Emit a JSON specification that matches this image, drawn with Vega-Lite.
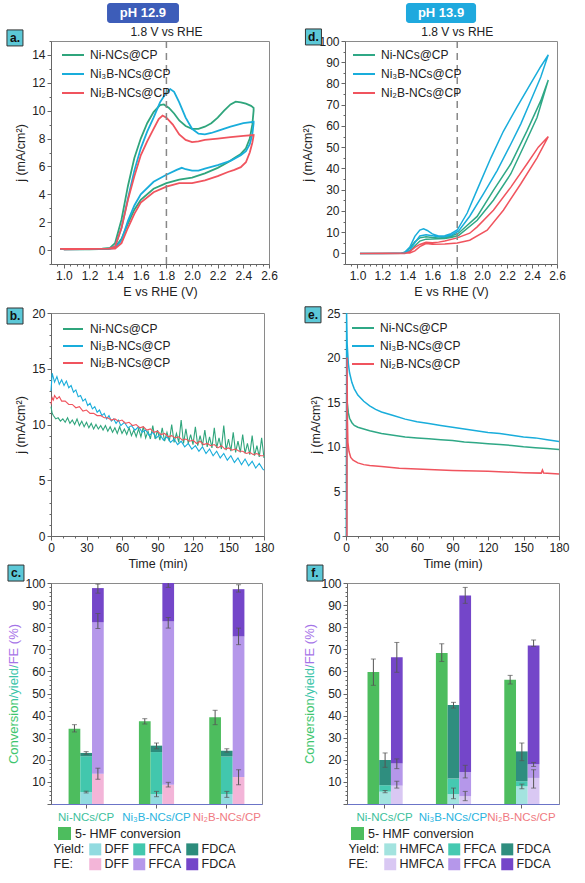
{
 "$schema": "https://vega.github.io/schema/vega-lite/v6.json",
 "background": "white",
 "padding": {"left": 4, "top": 2, "right": 2, "bottom": 2},
 "config": {
  "font": "Liberation Sans",
  "view": {"stroke": "#8a8a8a", "strokeWidth": 1},
  "axis": {"labelFontSize": 12, "titleFontSize": 12.5, "titleFontWeight": "normal", "labelColor": "#222", "titleColor": "#222", "domainColor": "#666", "tickColor": "#666", "tickSize": 4, "grid": false, "labelPadding": 2, "titlePadding": 4, "labelOverlap": false, "labelFlush": false},
  "legend": {"labelFontSize": 12, "labelColor": "#222", "padding": 0}
 },
 "datasets": {
  "cvA": [
   {"s":"Ni-NCs@CP","i":0,"v":0.97,"j":0.08},{"s":"Ni-NCs@CP","i":1,"v":1.1,"j":0.08},{"s":"Ni-NCs@CP","i":2,"v":1.2,"j":0.08},{"s":"Ni-NCs@CP","i":3,"v":1.3,"j":0.1},{"s":"Ni-NCs@CP","i":4,"v":1.36,"j":0.15},{"s":"Ni-NCs@CP","i":5,"v":1.4,"j":0.5},{"s":"Ni-NCs@CP","i":6,"v":1.45,"j":2.2},{"s":"Ni-NCs@CP","i":7,"v":1.5,"j":4.6},{"s":"Ni-NCs@CP","i":8,"v":1.55,"j":6.6},{"s":"Ni-NCs@CP","i":9,"v":1.6,"j":8.0},{"s":"Ni-NCs@CP","i":10,"v":1.65,"j":9.1},{"s":"Ni-NCs@CP","i":11,"v":1.7,"j":9.9},{"s":"Ni-NCs@CP","i":12,"v":1.75,"j":10.4},{"s":"Ni-NCs@CP","i":13,"v":1.78,"j":10.45},{"s":"Ni-NCs@CP","i":14,"v":1.82,"j":10.2},{"s":"Ni-NCs@CP","i":15,"v":1.86,"j":9.8},{"s":"Ni-NCs@CP","i":16,"v":1.9,"j":9.3},{"s":"Ni-NCs@CP","i":17,"v":1.95,"j":8.9},{"s":"Ni-NCs@CP","i":18,"v":2.0,"j":8.7},{"s":"Ni-NCs@CP","i":19,"v":2.05,"j":8.7},{"s":"Ni-NCs@CP","i":20,"v":2.1,"j":8.85},{"s":"Ni-NCs@CP","i":21,"v":2.15,"j":9.1},{"s":"Ni-NCs@CP","i":22,"v":2.2,"j":9.5},{"s":"Ni-NCs@CP","i":23,"v":2.25,"j":10.0},{"s":"Ni-NCs@CP","i":24,"v":2.3,"j":10.45},{"s":"Ni-NCs@CP","i":25,"v":2.34,"j":10.65},{"s":"Ni-NCs@CP","i":26,"v":2.38,"j":10.6},{"s":"Ni-NCs@CP","i":27,"v":2.42,"j":10.5},{"s":"Ni-NCs@CP","i":28,"v":2.46,"j":10.35},{"s":"Ni-NCs@CP","i":29,"v":2.48,"j":10.2},
   {"s":"Ni-NCs@CP","i":30,"v":2.48,"j":10.0},{"s":"Ni-NCs@CP","i":31,"v":2.47,"j":9.0},{"s":"Ni-NCs@CP","i":32,"v":2.45,"j":8.0},{"s":"Ni-NCs@CP","i":33,"v":2.42,"j":7.3},{"s":"Ni-NCs@CP","i":34,"v":2.38,"j":6.9},{"s":"Ni-NCs@CP","i":35,"v":2.33,"j":6.6},{"s":"Ni-NCs@CP","i":36,"v":2.28,"j":6.3},{"s":"Ni-NCs@CP","i":37,"v":2.2,"j":5.9},{"s":"Ni-NCs@CP","i":38,"v":2.1,"j":5.5},{"s":"Ni-NCs@CP","i":39,"v":2.0,"j":5.2},{"s":"Ni-NCs@CP","i":40,"v":1.9,"j":5.05},{"s":"Ni-NCs@CP","i":41,"v":1.8,"j":4.8},{"s":"Ni-NCs@CP","i":42,"v":1.7,"j":4.4},{"s":"Ni-NCs@CP","i":43,"v":1.6,"j":3.6},{"s":"Ni-NCs@CP","i":44,"v":1.55,"j":2.9},{"s":"Ni-NCs@CP","i":45,"v":1.5,"j":1.9},{"s":"Ni-NCs@CP","i":46,"v":1.45,"j":0.8},{"s":"Ni-NCs@CP","i":47,"v":1.4,"j":0.2},{"s":"Ni-NCs@CP","i":48,"v":1.35,"j":0.08},{"s":"Ni-NCs@CP","i":49,"v":1.2,"j":0.06},{"s":"Ni-NCs@CP","i":50,"v":1.0,"j":0.06},
   {"s":"Ni₃B-NCs@CP","i":0,"v":0.97,"j":0.08},{"s":"Ni₃B-NCs@CP","i":1,"v":1.2,"j":0.08},{"s":"Ni₃B-NCs@CP","i":2,"v":1.35,"j":0.1},{"s":"Ni₃B-NCs@CP","i":3,"v":1.4,"j":0.25},{"s":"Ni₃B-NCs@CP","i":4,"v":1.45,"j":1.6},{"s":"Ni₃B-NCs@CP","i":5,"v":1.5,"j":3.7},{"s":"Ni₃B-NCs@CP","i":6,"v":1.55,"j":5.7},{"s":"Ni₃B-NCs@CP","i":7,"v":1.6,"j":7.3},{"s":"Ni₃B-NCs@CP","i":8,"v":1.65,"j":8.5},{"s":"Ni₃B-NCs@CP","i":9,"v":1.7,"j":9.5},{"s":"Ni₃B-NCs@CP","i":10,"v":1.75,"j":10.6},{"s":"Ni₃B-NCs@CP","i":11,"v":1.8,"j":11.3},{"s":"Ni₃B-NCs@CP","i":12,"v":1.83,"j":11.55},{"s":"Ni₃B-NCs@CP","i":13,"v":1.86,"j":11.35},{"s":"Ni₃B-NCs@CP","i":14,"v":1.9,"j":10.6},{"s":"Ni₃B-NCs@CP","i":15,"v":1.95,"j":9.5},{"s":"Ni₃B-NCs@CP","i":16,"v":2.0,"j":8.7},{"s":"Ni₃B-NCs@CP","i":17,"v":2.05,"j":8.35},{"s":"Ni₃B-NCs@CP","i":18,"v":2.1,"j":8.3},{"s":"Ni₃B-NCs@CP","i":19,"v":2.15,"j":8.4},{"s":"Ni₃B-NCs@CP","i":20,"v":2.2,"j":8.55},{"s":"Ni₃B-NCs@CP","i":21,"v":2.3,"j":8.85},{"s":"Ni₃B-NCs@CP","i":22,"v":2.4,"j":9.1},{"s":"Ni₃B-NCs@CP","i":23,"v":2.48,"j":9.2},
   {"s":"Ni₃B-NCs@CP","i":24,"v":2.48,"j":9.1},{"s":"Ni₃B-NCs@CP","i":25,"v":2.47,"j":8.3},{"s":"Ni₃B-NCs@CP","i":26,"v":2.45,"j":7.6},{"s":"Ni₃B-NCs@CP","i":27,"v":2.42,"j":7.1},{"s":"Ni₃B-NCs@CP","i":28,"v":2.38,"j":6.8},{"s":"Ni₃B-NCs@CP","i":29,"v":2.3,"j":6.4},{"s":"Ni₃B-NCs@CP","i":30,"v":2.2,"j":6.1},{"s":"Ni₃B-NCs@CP","i":31,"v":2.1,"j":5.85},{"s":"Ni₃B-NCs@CP","i":32,"v":2.05,"j":5.7},{"s":"Ni₃B-NCs@CP","i":33,"v":2.0,"j":5.7},{"s":"Ni₃B-NCs@CP","i":34,"v":1.95,"j":5.8},{"s":"Ni₃B-NCs@CP","i":35,"v":1.92,"j":5.9},{"s":"Ni₃B-NCs@CP","i":36,"v":1.88,"j":5.75},{"s":"Ni₃B-NCs@CP","i":37,"v":1.8,"j":5.4},{"s":"Ni₃B-NCs@CP","i":38,"v":1.7,"j":4.9},{"s":"Ni₃B-NCs@CP","i":39,"v":1.6,"j":4.0},{"s":"Ni₃B-NCs@CP","i":40,"v":1.55,"j":3.2},{"s":"Ni₃B-NCs@CP","i":41,"v":1.5,"j":2.1},{"s":"Ni₃B-NCs@CP","i":42,"v":1.45,"j":0.7},{"s":"Ni₃B-NCs@CP","i":43,"v":1.4,"j":0.15},{"s":"Ni₃B-NCs@CP","i":44,"v":1.35,"j":0.08},{"s":"Ni₃B-NCs@CP","i":45,"v":1.0,"j":0.06},
   {"s":"Ni₂B-NCs@CP","i":0,"v":0.97,"j":0.08},{"s":"Ni₂B-NCs@CP","i":1,"v":1.2,"j":0.08},{"s":"Ni₂B-NCs@CP","i":2,"v":1.35,"j":0.1},{"s":"Ni₂B-NCs@CP","i":3,"v":1.4,"j":0.25},{"s":"Ni₂B-NCs@CP","i":4,"v":1.45,"j":1.6},{"s":"Ni₂B-NCs@CP","i":5,"v":1.5,"j":3.6},{"s":"Ni₂B-NCs@CP","i":6,"v":1.55,"j":5.3},{"s":"Ni₂B-NCs@CP","i":7,"v":1.6,"j":6.8},{"s":"Ni₂B-NCs@CP","i":8,"v":1.65,"j":7.8},{"s":"Ni₂B-NCs@CP","i":9,"v":1.7,"j":8.7},{"s":"Ni₂B-NCs@CP","i":10,"v":1.74,"j":9.4},{"s":"Ni₂B-NCs@CP","i":11,"v":1.77,"j":9.65},{"s":"Ni₂B-NCs@CP","i":12,"v":1.8,"j":9.5},{"s":"Ni₂B-NCs@CP","i":13,"v":1.85,"j":9.0},{"s":"Ni₂B-NCs@CP","i":14,"v":1.9,"j":8.3},{"s":"Ni₂B-NCs@CP","i":15,"v":1.95,"j":7.9},{"s":"Ni₂B-NCs@CP","i":16,"v":2.0,"j":7.75},{"s":"Ni₂B-NCs@CP","i":17,"v":2.05,"j":7.8},{"s":"Ni₂B-NCs@CP","i":18,"v":2.1,"j":7.9},{"s":"Ni₂B-NCs@CP","i":19,"v":2.2,"j":8.0},{"s":"Ni₂B-NCs@CP","i":20,"v":2.3,"j":8.1},{"s":"Ni₂B-NCs@CP","i":21,"v":2.4,"j":8.2},{"s":"Ni₂B-NCs@CP","i":22,"v":2.48,"j":8.25},
   {"s":"Ni₂B-NCs@CP","i":23,"v":2.48,"j":8.2},{"s":"Ni₂B-NCs@CP","i":24,"v":2.47,"j":7.7},{"s":"Ni₂B-NCs@CP","i":25,"v":2.45,"j":7.0},{"s":"Ni₂B-NCs@CP","i":26,"v":2.42,"j":6.3},{"s":"Ni₂B-NCs@CP","i":27,"v":2.38,"j":5.95},{"s":"Ni₂B-NCs@CP","i":28,"v":2.33,"j":5.75},{"s":"Ni₂B-NCs@CP","i":29,"v":2.28,"j":5.6},{"s":"Ni₂B-NCs@CP","i":30,"v":2.2,"j":5.3},{"s":"Ni₂B-NCs@CP","i":31,"v":2.1,"j":5.0},{"s":"Ni₂B-NCs@CP","i":32,"v":2.0,"j":4.8},{"s":"Ni₂B-NCs@CP","i":33,"v":1.9,"j":4.8},{"s":"Ni₂B-NCs@CP","i":34,"v":1.8,"j":4.55},{"s":"Ni₂B-NCs@CP","i":35,"v":1.7,"j":4.15},{"s":"Ni₂B-NCs@CP","i":36,"v":1.6,"j":3.4},{"s":"Ni₂B-NCs@CP","i":37,"v":1.55,"j":2.6},{"s":"Ni₂B-NCs@CP","i":38,"v":1.5,"j":1.6},{"s":"Ni₂B-NCs@CP","i":39,"v":1.45,"j":0.5},{"s":"Ni₂B-NCs@CP","i":40,"v":1.4,"j":0.1},{"s":"Ni₂B-NCs@CP","i":41,"v":1.0,"j":0.06}
  ],
  "cvD": [
   {"s":"Ni-NCs@CP","i":0,"v":1.02,"j":0},{"s":"Ni-NCs@CP","i":1,"v":1.35,"j":0},{"s":"Ni-NCs@CP","i":2,"v":1.38,"j":0.5},{"s":"Ni-NCs@CP","i":3,"v":1.42,"j":2.5},{"s":"Ni-NCs@CP","i":4,"v":1.46,"j":5.5},{"s":"Ni-NCs@CP","i":5,"v":1.5,"j":7.3},{"s":"Ni-NCs@CP","i":6,"v":1.55,"j":7.8},{"s":"Ni-NCs@CP","i":7,"v":1.6,"j":7.5},{"s":"Ni-NCs@CP","i":8,"v":1.65,"j":7.3},{"s":"Ni-NCs@CP","i":9,"v":1.7,"j":7.5},{"s":"Ni-NCs@CP","i":10,"v":1.75,"j":8.2},{"s":"Ni-NCs@CP","i":11,"v":1.81,"j":9.5},{"s":"Ni-NCs@CP","i":12,"v":1.96,"j":17.4},{"s":"Ni-NCs@CP","i":13,"v":2.09,"j":29.7},{"s":"Ni-NCs@CP","i":14,"v":2.23,"j":42.2},{"s":"Ni-NCs@CP","i":15,"v":2.36,"j":57.8},{"s":"Ni-NCs@CP","i":16,"v":2.47,"j":71.9},{"s":"Ni-NCs@CP","i":17,"v":2.53,"j":81.6},
   {"s":"Ni-NCs@CP","i":18,"v":2.44,"j":64},{"s":"Ni-NCs@CP","i":19,"v":2.33,"j":50},{"s":"Ni-NCs@CP","i":20,"v":2.23,"j":37.5},{"s":"Ni-NCs@CP","i":21,"v":2.09,"j":25},{"s":"Ni-NCs@CP","i":22,"v":1.96,"j":15.6},{"s":"Ni-NCs@CP","i":23,"v":1.81,"j":8.4},{"s":"Ni-NCs@CP","i":24,"v":1.75,"j":7.5},{"s":"Ni-NCs@CP","i":25,"v":1.7,"j":7.0},{"s":"Ni-NCs@CP","i":26,"v":1.6,"j":6.8},{"s":"Ni-NCs@CP","i":27,"v":1.55,"j":6.7},{"s":"Ni-NCs@CP","i":28,"v":1.5,"j":5.8},{"s":"Ni-NCs@CP","i":29,"v":1.46,"j":3.5},{"s":"Ni-NCs@CP","i":30,"v":1.42,"j":1.0},{"s":"Ni-NCs@CP","i":31,"v":1.38,"j":0.1},{"s":"Ni-NCs@CP","i":32,"v":1.02,"j":0},
   {"s":"Ni₃B-NCs@CP","i":0,"v":1.02,"j":0},{"s":"Ni₃B-NCs@CP","i":1,"v":1.2,"j":0},{"s":"Ni₃B-NCs@CP","i":2,"v":1.35,"j":0.1},{"s":"Ni₃B-NCs@CP","i":3,"v":1.38,"j":0.5},{"s":"Ni₃B-NCs@CP","i":4,"v":1.42,"j":3},{"s":"Ni₃B-NCs@CP","i":5,"v":1.46,"j":8},{"s":"Ni₃B-NCs@CP","i":6,"v":1.5,"j":11},{"s":"Ni₃B-NCs@CP","i":7,"v":1.53,"j":11.6},{"s":"Ni₃B-NCs@CP","i":8,"v":1.56,"j":10.8},{"s":"Ni₃B-NCs@CP","i":9,"v":1.6,"j":9.2},{"s":"Ni₃B-NCs@CP","i":10,"v":1.65,"j":8.2},{"s":"Ni₃B-NCs@CP","i":11,"v":1.7,"j":8.3},{"s":"Ni₃B-NCs@CP","i":12,"v":1.75,"j":9.3},{"s":"Ni₃B-NCs@CP","i":13,"v":1.8,"j":11},{"s":"Ni₃B-NCs@CP","i":14,"v":1.88,"j":19},{"s":"Ni₃B-NCs@CP","i":15,"v":1.96,"j":30},{"s":"Ni₃B-NCs@CP","i":16,"v":2.07,"j":45},{"s":"Ni₃B-NCs@CP","i":17,"v":2.17,"j":57.5},{"s":"Ni₃B-NCs@CP","i":18,"v":2.28,"j":69},{"s":"Ni₃B-NCs@CP","i":19,"v":2.39,"j":80},{"s":"Ni₃B-NCs@CP","i":20,"v":2.47,"j":88},{"s":"Ni₃B-NCs@CP","i":21,"v":2.53,"j":93.5},
   {"s":"Ni₃B-NCs@CP","i":22,"v":2.47,"j":83},{"s":"Ni₃B-NCs@CP","i":23,"v":2.39,"j":72},{"s":"Ni₃B-NCs@CP","i":24,"v":2.31,"j":61},{"s":"Ni₃B-NCs@CP","i":25,"v":2.23,"j":51.5},{"s":"Ni₃B-NCs@CP","i":26,"v":2.12,"j":39},{"s":"Ni₃B-NCs@CP","i":27,"v":2.01,"j":28},{"s":"Ni₃B-NCs@CP","i":28,"v":1.9,"j":17.5},{"s":"Ni₃B-NCs@CP","i":29,"v":1.81,"j":10.5},{"s":"Ni₃B-NCs@CP","i":30,"v":1.75,"j":8.5},{"s":"Ni₃B-NCs@CP","i":31,"v":1.7,"j":7.8},{"s":"Ni₃B-NCs@CP","i":32,"v":1.65,"j":7.8},{"s":"Ni₃B-NCs@CP","i":33,"v":1.6,"j":8.3},{"s":"Ni₃B-NCs@CP","i":34,"v":1.55,"j":8.8},{"s":"Ni₃B-NCs@CP","i":35,"v":1.5,"j":8.2},{"s":"Ni₃B-NCs@CP","i":36,"v":1.46,"j":5},{"s":"Ni₃B-NCs@CP","i":37,"v":1.42,"j":1.5},{"s":"Ni₃B-NCs@CP","i":38,"v":1.38,"j":0.2},{"s":"Ni₃B-NCs@CP","i":39,"v":1.2,"j":0},{"s":"Ni₃B-NCs@CP","i":40,"v":1.02,"j":0},
   {"s":"Ni₂B-NCs@CP","i":0,"v":1.02,"j":0},{"s":"Ni₂B-NCs@CP","i":1,"v":1.38,"j":0},{"s":"Ni₂B-NCs@CP","i":2,"v":1.42,"j":0.8},{"s":"Ni₂B-NCs@CP","i":3,"v":1.46,"j":2.8},{"s":"Ni₂B-NCs@CP","i":4,"v":1.5,"j":4.2},{"s":"Ni₂B-NCs@CP","i":5,"v":1.55,"j":5.2},{"s":"Ni₂B-NCs@CP","i":6,"v":1.6,"j":5.0},{"s":"Ni₂B-NCs@CP","i":7,"v":1.65,"j":5.3},{"s":"Ni₂B-NCs@CP","i":8,"v":1.7,"j":5.8},{"s":"Ni₂B-NCs@CP","i":9,"v":1.8,"j":7.3},{"s":"Ni₂B-NCs@CP","i":10,"v":1.9,"j":9.5},{"s":"Ni₂B-NCs@CP","i":11,"v":1.96,"j":12.5},{"s":"Ni₂B-NCs@CP","i":12,"v":2.09,"j":20.3},{"s":"Ni₂B-NCs@CP","i":13,"v":2.23,"j":31.2},{"s":"Ni₂B-NCs@CP","i":14,"v":2.36,"j":42.2},{"s":"Ni₂B-NCs@CP","i":15,"v":2.45,"j":50},{"s":"Ni₂B-NCs@CP","i":16,"v":2.53,"j":55},
   {"s":"Ni₂B-NCs@CP","i":17,"v":2.44,"j":45},{"s":"Ni₂B-NCs@CP","i":18,"v":2.31,"j":32.8},{"s":"Ni₂B-NCs@CP","i":19,"v":2.17,"j":20.3},{"s":"Ni₂B-NCs@CP","i":20,"v":2.04,"j":10.9},{"s":"Ni₂B-NCs@CP","i":21,"v":1.9,"j":6.2},{"s":"Ni₂B-NCs@CP","i":22,"v":1.8,"j":4.9},{"s":"Ni₂B-NCs@CP","i":23,"v":1.7,"j":4.4},{"s":"Ni₂B-NCs@CP","i":24,"v":1.6,"j":4.3},{"s":"Ni₂B-NCs@CP","i":25,"v":1.55,"j":4.6},{"s":"Ni₂B-NCs@CP","i":26,"v":1.5,"j":3.2},{"s":"Ni₂B-NCs@CP","i":27,"v":1.46,"j":1.2},{"s":"Ni₂B-NCs@CP","i":28,"v":1.42,"j":0.2},{"s":"Ni₂B-NCs@CP","i":29,"v":1.02,"j":0}
  ],
  "caB": [
   {"s":"Ni-NCs@CP","t":0,"j":11.6},{"s":"Ni-NCs@CP","t":1,"j":11.0},{"s":"Ni-NCs@CP","t":2,"j":10.8},{"s":"Ni-NCs@CP","t":4,"j":10.5},{"s":"Ni-NCs@CP","t":6,"j":10.6},{"s":"Ni-NCs@CP","t":8,"j":10.3},{"s":"Ni-NCs@CP","t":10,"j":10.5},{"s":"Ni-NCs@CP","t":12,"j":10.2},{"s":"Ni-NCs@CP","t":14,"j":10.6},{"s":"Ni-NCs@CP","t":16,"j":10.1},{"s":"Ni-NCs@CP","t":18,"j":10.4},{"s":"Ni-NCs@CP","t":20,"j":10.0},{"s":"Ni-NCs@CP","t":22,"j":10.5},{"s":"Ni-NCs@CP","t":24,"j":9.9},{"s":"Ni-NCs@CP","t":26,"j":10.3},{"s":"Ni-NCs@CP","t":28,"j":9.8},{"s":"Ni-NCs@CP","t":30,"j":10.2},{"s":"Ni-NCs@CP","t":32,"j":9.7},{"s":"Ni-NCs@CP","t":34,"j":10.1},{"s":"Ni-NCs@CP","t":36,"j":9.6},{"s":"Ni-NCs@CP","t":38,"j":10.0},{"s":"Ni-NCs@CP","t":40,"j":9.6},{"s":"Ni-NCs@CP","t":42,"j":9.9},{"s":"Ni-NCs@CP","t":44,"j":9.5},{"s":"Ni-NCs@CP","t":46,"j":9.9},{"s":"Ni-NCs@CP","t":48,"j":9.4},{"s":"Ni-NCs@CP","t":50,"j":9.8},{"s":"Ni-NCs@CP","t":52,"j":9.3},{"s":"Ni-NCs@CP","t":54,"j":9.7},{"s":"Ni-NCs@CP","t":56,"j":9.2},{"s":"Ni-NCs@CP","t":58,"j":9.8},{"s":"Ni-NCs@CP","t":60,"j":9.2},{"s":"Ni-NCs@CP","t":62,"j":9.6},{"s":"Ni-NCs@CP","t":64,"j":9.1},{"s":"Ni-NCs@CP","t":66,"j":9.7},{"s":"Ni-NCs@CP","t":68,"j":9.0},{"s":"Ni-NCs@CP","t":70,"j":9.5},{"s":"Ni-NCs@CP","t":72,"j":8.9},{"s":"Ni-NCs@CP","t":74,"j":9.6},{"s":"Ni-NCs@CP","t":76,"j":8.9},{"s":"Ni-NCs@CP","t":78,"j":9.8},{"s":"Ni-NCs@CP","t":80,"j":8.8},{"s":"Ni-NCs@CP","t":82,"j":9.4},{"s":"Ni-NCs@CP","t":84,"j":8.7},{"s":"Ni-NCs@CP","t":86,"j":9.9},{"s":"Ni-NCs@CP","t":88,"j":8.7},{"s":"Ni-NCs@CP","t":90,"j":9.5},{"s":"Ni-NCs@CP","t":92,"j":8.6},{"s":"Ni-NCs@CP","t":94,"j":9.7},{"s":"Ni-NCs@CP","t":96,"j":8.5},{"s":"Ni-NCs@CP","t":98,"j":9.3},{"s":"Ni-NCs@CP","t":100,"j":8.5},{"s":"Ni-NCs@CP","t":102,"j":10.0},{"s":"Ni-NCs@CP","t":104,"j":8.4},{"s":"Ni-NCs@CP","t":106,"j":9.2},{"s":"Ni-NCs@CP","t":108,"j":8.4},{"s":"Ni-NCs@CP","t":110,"j":10.4},{"s":"Ni-NCs@CP","t":112,"j":8.3},{"s":"Ni-NCs@CP","t":114,"j":9.6},{"s":"Ni-NCs@CP","t":116,"j":8.3},{"s":"Ni-NCs@CP","t":118,"j":9.1},{"s":"Ni-NCs@CP","t":120,"j":8.2},{"s":"Ni-NCs@CP","t":122,"j":9.8},{"s":"Ni-NCs@CP","t":124,"j":8.1},{"s":"Ni-NCs@CP","t":126,"j":9.0},{"s":"Ni-NCs@CP","t":128,"j":8.1},{"s":"Ni-NCs@CP","t":130,"j":9.5},{"s":"Ni-NCs@CP","t":132,"j":8.0},{"s":"Ni-NCs@CP","t":134,"j":8.9},{"s":"Ni-NCs@CP","t":136,"j":7.9},{"s":"Ni-NCs@CP","t":138,"j":9.7},{"s":"Ni-NCs@CP","t":140,"j":7.9},{"s":"Ni-NCs@CP","t":142,"j":8.8},{"s":"Ni-NCs@CP","t":144,"j":7.8},{"s":"Ni-NCs@CP","t":146,"j":9.9},{"s":"Ni-NCs@CP","t":148,"j":7.7},{"s":"Ni-NCs@CP","t":150,"j":8.7},{"s":"Ni-NCs@CP","t":152,"j":7.6},{"s":"Ni-NCs@CP","t":154,"j":9.3},{"s":"Ni-NCs@CP","t":156,"j":7.5},{"s":"Ni-NCs@CP","t":158,"j":8.5},{"s":"Ni-NCs@CP","t":160,"j":7.5},{"s":"Ni-NCs@CP","t":162,"j":9.1},{"s":"Ni-NCs@CP","t":164,"j":7.4},{"s":"Ni-NCs@CP","t":166,"j":8.3},{"s":"Ni-NCs@CP","t":168,"j":7.3},{"s":"Ni-NCs@CP","t":170,"j":9.0},{"s":"Ni-NCs@CP","t":172,"j":7.2},{"s":"Ni-NCs@CP","t":174,"j":8.1},{"s":"Ni-NCs@CP","t":176,"j":7.1},{"s":"Ni-NCs@CP","t":178,"j":8.8},{"s":"Ni-NCs@CP","t":180,"j":7.0},
   {"s":"Ni₃B-NCs@CP","t":0,"j":13.0},{"s":"Ni₃B-NCs@CP","t":1,"j":14.6},{"s":"Ni₃B-NCs@CP","t":3,"j":13.8},{"s":"Ni₃B-NCs@CP","t":5,"j":14.3},{"s":"Ni₃B-NCs@CP","t":7,"j":13.6},{"s":"Ni₃B-NCs@CP","t":9,"j":14.0},{"s":"Ni₃B-NCs@CP","t":11,"j":13.5},{"s":"Ni₃B-NCs@CP","t":13,"j":13.9},{"s":"Ni₃B-NCs@CP","t":15,"j":13.3},{"s":"Ni₃B-NCs@CP","t":17,"j":13.5},{"s":"Ni₃B-NCs@CP","t":19,"j":12.9},{"s":"Ni₃B-NCs@CP","t":21,"j":13.1},{"s":"Ni₃B-NCs@CP","t":23,"j":12.5},{"s":"Ni₃B-NCs@CP","t":25,"j":12.6},{"s":"Ni₃B-NCs@CP","t":27,"j":12.1},{"s":"Ni₃B-NCs@CP","t":29,"j":12.3},{"s":"Ni₃B-NCs@CP","t":31,"j":11.7},{"s":"Ni₃B-NCs@CP","t":33,"j":11.9},{"s":"Ni₃B-NCs@CP","t":35,"j":11.4},{"s":"Ni₃B-NCs@CP","t":37,"j":11.6},{"s":"Ni₃B-NCs@CP","t":39,"j":11.1},{"s":"Ni₃B-NCs@CP","t":41,"j":11.3},{"s":"Ni₃B-NCs@CP","t":43,"j":10.8},{"s":"Ni₃B-NCs@CP","t":45,"j":11.0},{"s":"Ni₃B-NCs@CP","t":47,"j":10.5},{"s":"Ni₃B-NCs@CP","t":49,"j":10.8},{"s":"Ni₃B-NCs@CP","t":51,"j":10.3},{"s":"Ni₃B-NCs@CP","t":53,"j":10.5},{"s":"Ni₃B-NCs@CP","t":55,"j":10.1},{"s":"Ni₃B-NCs@CP","t":57,"j":10.4},{"s":"Ni₃B-NCs@CP","t":59,"j":9.9},{"s":"Ni₃B-NCs@CP","t":62,"j":10.2},{"s":"Ni₃B-NCs@CP","t":65,"j":9.7},{"s":"Ni₃B-NCs@CP","t":68,"j":9.9},{"s":"Ni₃B-NCs@CP","t":71,"j":9.5},{"s":"Ni₃B-NCs@CP","t":74,"j":9.8},{"s":"Ni₃B-NCs@CP","t":77,"j":9.3},{"s":"Ni₃B-NCs@CP","t":80,"j":9.5},{"s":"Ni₃B-NCs@CP","t":83,"j":9.0},{"s":"Ni₃B-NCs@CP","t":86,"j":9.3},{"s":"Ni₃B-NCs@CP","t":89,"j":8.8},{"s":"Ni₃B-NCs@CP","t":92,"j":9.1},{"s":"Ni₃B-NCs@CP","t":95,"j":8.6},{"s":"Ni₃B-NCs@CP","t":98,"j":8.9},{"s":"Ni₃B-NCs@CP","t":101,"j":8.4},{"s":"Ni₃B-NCs@CP","t":104,"j":8.7},{"s":"Ni₃B-NCs@CP","t":107,"j":8.2},{"s":"Ni₃B-NCs@CP","t":110,"j":8.5},{"s":"Ni₃B-NCs@CP","t":113,"j":8.0},{"s":"Ni₃B-NCs@CP","t":116,"j":8.3},{"s":"Ni₃B-NCs@CP","t":119,"j":7.8},{"s":"Ni₃B-NCs@CP","t":122,"j":8.1},{"s":"Ni₃B-NCs@CP","t":125,"j":7.6},{"s":"Ni₃B-NCs@CP","t":128,"j":8.0},{"s":"Ni₃B-NCs@CP","t":131,"j":7.4},{"s":"Ni₃B-NCs@CP","t":134,"j":7.8},{"s":"Ni₃B-NCs@CP","t":137,"j":7.2},{"s":"Ni₃B-NCs@CP","t":140,"j":7.6},{"s":"Ni₃B-NCs@CP","t":143,"j":7.0},{"s":"Ni₃B-NCs@CP","t":146,"j":7.4},{"s":"Ni₃B-NCs@CP","t":149,"j":6.8},{"s":"Ni₃B-NCs@CP","t":152,"j":7.2},{"s":"Ni₃B-NCs@CP","t":155,"j":6.6},{"s":"Ni₃B-NCs@CP","t":158,"j":7.0},{"s":"Ni₃B-NCs@CP","t":161,"j":6.4},{"s":"Ni₃B-NCs@CP","t":164,"j":6.9},{"s":"Ni₃B-NCs@CP","t":167,"j":6.3},{"s":"Ni₃B-NCs@CP","t":170,"j":6.7},{"s":"Ni₃B-NCs@CP","t":173,"j":6.1},{"s":"Ni₃B-NCs@CP","t":176,"j":6.5},{"s":"Ni₃B-NCs@CP","t":179,"j":6.0},{"s":"Ni₃B-NCs@CP","t":180,"j":5.9},
   {"s":"Ni₂B-NCs@CP","t":0,"j":11.8},{"s":"Ni₂B-NCs@CP","t":1,"j":12.4},{"s":"Ni₂B-NCs@CP","t":2,"j":12.2},{"s":"Ni₂B-NCs@CP","t":3,"j":12.6},{"s":"Ni₂B-NCs@CP","t":5,"j":12.3},{"s":"Ni₂B-NCs@CP","t":7,"j":12.5},{"s":"Ni₂B-NCs@CP","t":9,"j":12.1},{"s":"Ni₂B-NCs@CP","t":12,"j":12.1},{"s":"Ni₂B-NCs@CP","t":15,"j":11.8},{"s":"Ni₂B-NCs@CP","t":18,"j":11.8},{"s":"Ni₂B-NCs@CP","t":21,"j":11.5},{"s":"Ni₂B-NCs@CP","t":24,"j":11.6},{"s":"Ni₂B-NCs@CP","t":27,"j":11.2},{"s":"Ni₂B-NCs@CP","t":30,"j":11.3},{"s":"Ni₂B-NCs@CP","t":33,"j":11.0},{"s":"Ni₂B-NCs@CP","t":36,"j":11.0},{"s":"Ni₂B-NCs@CP","t":39,"j":10.8},{"s":"Ni₂B-NCs@CP","t":42,"j":10.8},{"s":"Ni₂B-NCs@CP","t":45,"j":10.6},{"s":"Ni₂B-NCs@CP","t":48,"j":10.6},{"s":"Ni₂B-NCs@CP","t":51,"j":10.4},{"s":"Ni₂B-NCs@CP","t":54,"j":10.5},{"s":"Ni₂B-NCs@CP","t":57,"j":10.3},{"s":"Ni₂B-NCs@CP","t":60,"j":10.4},{"s":"Ni₂B-NCs@CP","t":63,"j":10.1},{"s":"Ni₂B-NCs@CP","t":66,"j":10.2},{"s":"Ni₂B-NCs@CP","t":69,"j":9.9},{"s":"Ni₂B-NCs@CP","t":72,"j":10.0},{"s":"Ni₂B-NCs@CP","t":75,"j":9.7},{"s":"Ni₂B-NCs@CP","t":78,"j":9.8},{"s":"Ni₂B-NCs@CP","t":81,"j":9.5},{"s":"Ni₂B-NCs@CP","t":84,"j":9.6},{"s":"Ni₂B-NCs@CP","t":87,"j":9.3},{"s":"Ni₂B-NCs@CP","t":90,"j":9.4},{"s":"Ni₂B-NCs@CP","t":93,"j":9.1},{"s":"Ni₂B-NCs@CP","t":96,"j":9.2},{"s":"Ni₂B-NCs@CP","t":99,"j":8.9},{"s":"Ni₂B-NCs@CP","t":102,"j":9.0},{"s":"Ni₂B-NCs@CP","t":105,"j":8.8},{"s":"Ni₂B-NCs@CP","t":108,"j":8.9},{"s":"Ni₂B-NCs@CP","t":111,"j":8.6},{"s":"Ni₂B-NCs@CP","t":114,"j":8.7},{"s":"Ni₂B-NCs@CP","t":117,"j":8.5},{"s":"Ni₂B-NCs@CP","t":120,"j":8.6},{"s":"Ni₂B-NCs@CP","t":123,"j":8.3},{"s":"Ni₂B-NCs@CP","t":126,"j":8.5},{"s":"Ni₂B-NCs@CP","t":129,"j":8.2},{"s":"Ni₂B-NCs@CP","t":132,"j":8.3},{"s":"Ni₂B-NCs@CP","t":135,"j":8.1},{"s":"Ni₂B-NCs@CP","t":138,"j":8.2},{"s":"Ni₂B-NCs@CP","t":141,"j":7.9},{"s":"Ni₂B-NCs@CP","t":144,"j":8.1},{"s":"Ni₂B-NCs@CP","t":147,"j":7.8},{"s":"Ni₂B-NCs@CP","t":150,"j":7.9},{"s":"Ni₂B-NCs@CP","t":153,"j":7.7},{"s":"Ni₂B-NCs@CP","t":156,"j":7.8},{"s":"Ni₂B-NCs@CP","t":159,"j":7.6},{"s":"Ni₂B-NCs@CP","t":162,"j":7.6},{"s":"Ni₂B-NCs@CP","t":165,"j":7.4},{"s":"Ni₂B-NCs@CP","t":168,"j":7.5},{"s":"Ni₂B-NCs@CP","t":171,"j":7.3},{"s":"Ni₂B-NCs@CP","t":174,"j":7.4},{"s":"Ni₂B-NCs@CP","t":177,"j":7.2},{"s":"Ni₂B-NCs@CP","t":180,"j":7.2}
  ],
  "caE": [
   {"s":"Ni-NCs@CP","t":0.4,"j":0},{"s":"Ni-NCs@CP","t":0.6,"j":16},{"s":"Ni-NCs@CP","t":1,"j":15},{"s":"Ni-NCs@CP","t":2,"j":13.8},{"s":"Ni-NCs@CP","t":3,"j":13.2},{"s":"Ni-NCs@CP","t":5,"j":12.7},{"s":"Ni-NCs@CP","t":7,"j":12.4},{"s":"Ni-NCs@CP","t":10,"j":12.2},{"s":"Ni-NCs@CP","t":15,"j":12.0},{"s":"Ni-NCs@CP","t":20,"j":11.8},{"s":"Ni-NCs@CP","t":30,"j":11.5},{"s":"Ni-NCs@CP","t":40,"j":11.3},{"s":"Ni-NCs@CP","t":50,"j":11.1},{"s":"Ni-NCs@CP","t":60,"j":11.0},{"s":"Ni-NCs@CP","t":70,"j":10.9},{"s":"Ni-NCs@CP","t":80,"j":10.8},{"s":"Ni-NCs@CP","t":90,"j":10.7},{"s":"Ni-NCs@CP","t":100,"j":10.55},{"s":"Ni-NCs@CP","t":110,"j":10.45},{"s":"Ni-NCs@CP","t":120,"j":10.35},{"s":"Ni-NCs@CP","t":130,"j":10.25},{"s":"Ni-NCs@CP","t":140,"j":10.15},{"s":"Ni-NCs@CP","t":150,"j":10.0},{"s":"Ni-NCs@CP","t":160,"j":9.9},{"s":"Ni-NCs@CP","t":170,"j":9.8},{"s":"Ni-NCs@CP","t":180,"j":9.7},
   {"s":"Ni₃B-NCs@CP","t":0.4,"j":0},{"s":"Ni₃B-NCs@CP","t":0.5,"j":25},{"s":"Ni₃B-NCs@CP","t":1,"j":21.5},{"s":"Ni₃B-NCs@CP","t":2,"j":19.3},{"s":"Ni₃B-NCs@CP","t":3,"j":18.3},{"s":"Ni₃B-NCs@CP","t":5,"j":17.2},{"s":"Ni₃B-NCs@CP","t":7,"j":16.5},{"s":"Ni₃B-NCs@CP","t":10,"j":15.8},{"s":"Ni₃B-NCs@CP","t":15,"j":15.1},{"s":"Ni₃B-NCs@CP","t":20,"j":14.6},{"s":"Ni₃B-NCs@CP","t":25,"j":14.2},{"s":"Ni₃B-NCs@CP","t":30,"j":13.9},{"s":"Ni₃B-NCs@CP","t":40,"j":13.5},{"s":"Ni₃B-NCs@CP","t":50,"j":13.1},{"s":"Ni₃B-NCs@CP","t":60,"j":12.8},{"s":"Ni₃B-NCs@CP","t":70,"j":12.6},{"s":"Ni₃B-NCs@CP","t":80,"j":12.4},{"s":"Ni₃B-NCs@CP","t":90,"j":12.2},{"s":"Ni₃B-NCs@CP","t":100,"j":12.0},{"s":"Ni₃B-NCs@CP","t":110,"j":11.8},{"s":"Ni₃B-NCs@CP","t":120,"j":11.6},{"s":"Ni₃B-NCs@CP","t":130,"j":11.5},{"s":"Ni₃B-NCs@CP","t":140,"j":11.3},{"s":"Ni₃B-NCs@CP","t":150,"j":11.1},{"s":"Ni₃B-NCs@CP","t":160,"j":11.0},{"s":"Ni₃B-NCs@CP","t":170,"j":10.8},{"s":"Ni₃B-NCs@CP","t":180,"j":10.6},
   {"s":"Ni₂B-NCs@CP","t":0.8,"j":0},{"s":"Ni₂B-NCs@CP","t":0.9,"j":20},{"s":"Ni₂B-NCs@CP","t":1.2,"j":13},{"s":"Ni₂B-NCs@CP","t":1.6,"j":10.5},{"s":"Ni₂B-NCs@CP","t":2.5,"j":9.5},{"s":"Ni₂B-NCs@CP","t":4,"j":8.8},{"s":"Ni₂B-NCs@CP","t":6,"j":8.5},{"s":"Ni₂B-NCs@CP","t":10,"j":8.2},{"s":"Ni₂B-NCs@CP","t":15,"j":8.0},{"s":"Ni₂B-NCs@CP","t":20,"j":7.9},{"s":"Ni₂B-NCs@CP","t":30,"j":7.8},{"s":"Ni₂B-NCs@CP","t":45,"j":7.6},{"s":"Ni₂B-NCs@CP","t":60,"j":7.5},{"s":"Ni₂B-NCs@CP","t":90,"j":7.35},{"s":"Ni₂B-NCs@CP","t":120,"j":7.25},{"s":"Ni₂B-NCs@CP","t":150,"j":7.1},{"s":"Ni₂B-NCs@CP","t":165,"j":7.05},{"s":"Ni₂B-NCs@CP","t":166,"j":7.4},{"s":"Ni₂B-NCs@CP","t":167,"j":7.05},{"s":"Ni₂B-NCs@CP","t":180,"j":6.95}
  ],
  "barsC": [
   {"c":"Ni-NCs/CP","b":"conv","k":"5- HMF conversion","lo":0,"hi":34.1},
   {"c":"Ni₃B-NCs/CP","b":"conv","k":"5- HMF conversion","lo":0,"hi":37.4},
   {"c":"Ni₂B-NCs/CP","b":"conv","k":"5- HMF conversion","lo":0,"hi":39.3},
   {"c":"Ni-NCs/CP","b":"yield","k":"Yield DFF","lo":0,"hi":5.4},
   {"c":"Ni-NCs/CP","b":"yield","k":"Yield FFCA","lo":5.4,"hi":21.6},
   {"c":"Ni-NCs/CP","b":"yield","k":"Yield FDCA","lo":21.6,"hi":23.1},
   {"c":"Ni₃B-NCs/CP","b":"yield","k":"Yield DFF","lo":0,"hi":4.5},
   {"c":"Ni₃B-NCs/CP","b":"yield","k":"Yield FFCA","lo":4.5,"hi":23.5},
   {"c":"Ni₃B-NCs/CP","b":"yield","k":"Yield FDCA","lo":23.5,"hi":26.4},
   {"c":"Ni₂B-NCs/CP","b":"yield","k":"Yield DFF","lo":0,"hi":4.5},
   {"c":"Ni₂B-NCs/CP","b":"yield","k":"Yield FFCA","lo":4.5,"hi":21.5},
   {"c":"Ni₂B-NCs/CP","b":"yield","k":"Yield FDCA","lo":21.5,"hi":24.1},
   {"c":"Ni-NCs/CP","b":"fe","k":"FE DFF","lo":0,"hi":13.7},
   {"c":"Ni-NCs/CP","b":"fe","k":"FE FFCA","lo":13.7,"hi":82.3},
   {"c":"Ni-NCs/CP","b":"fe","k":"FE FDCA","lo":82.3,"hi":97.7},
   {"c":"Ni₃B-NCs/CP","b":"fe","k":"FE DFF","lo":0,"hi":8.7},
   {"c":"Ni₃B-NCs/CP","b":"fe","k":"FE FFCA","lo":8.7,"hi":82.6},
   {"c":"Ni₃B-NCs/CP","b":"fe","k":"FE FDCA","lo":82.6,"hi":100},
   {"c":"Ni₂B-NCs/CP","b":"fe","k":"FE DFF","lo":0,"hi":12.2},
   {"c":"Ni₂B-NCs/CP","b":"fe","k":"FE FFCA","lo":12.2,"hi":75.8},
   {"c":"Ni₂B-NCs/CP","b":"fe","k":"FE FDCA","lo":75.8,"hi":97.2}
  ],
  "errC": [
   {"c":"Ni-NCs/CP","b":"conv","lo":32.6,"hi":35.9},
   {"c":"Ni-NCs/CP","b":"yield","lo":5.0,"hi":5.8},
   {"c":"Ni-NCs/CP","b":"yield","lo":22.5,"hi":23.7},
   {"c":"Ni-NCs/CP","b":"fe","lo":11.2,"hi":16.2},
   {"c":"Ni-NCs/CP","b":"fe","lo":79.4,"hi":86.2},
   {"c":"Ni-NCs/CP","b":"fe","lo":95.4,"hi":99.5},
   {"c":"Ni₃B-NCs/CP","b":"conv","lo":36.2,"hi":38.6},
   {"c":"Ni₃B-NCs/CP","b":"yield","lo":3.3,"hi":5.7},
   {"c":"Ni₃B-NCs/CP","b":"yield","lo":25.0,"hi":27.6},
   {"c":"Ni₃B-NCs/CP","b":"fe","lo":7.7,"hi":9.8},
   {"c":"Ni₃B-NCs/CP","b":"fe","lo":79.6,"hi":84.4},
   {"c":"Ni₃B-NCs/CP","b":"fe","lo":98.0,"hi":102.0},
   {"c":"Ni₂B-NCs/CP","b":"conv","lo":35.9,"hi":42.4},
   {"c":"Ni₂B-NCs/CP","b":"yield","lo":3.0,"hi":5.7},
   {"c":"Ni₂B-NCs/CP","b":"yield","lo":23.5,"hi":25.0},
   {"c":"Ni₂B-NCs/CP","b":"fe","lo":8.7,"hi":15.5},
   {"c":"Ni₂B-NCs/CP","b":"fe","lo":72.1,"hi":79.6},
   {"c":"Ni₂B-NCs/CP","b":"fe","lo":95.9,"hi":99.2}
  ],
  "barsF": [
   {"c":"Ni-NCs/CP","b":"conv","k":"5- HMF conversion","lo":0,"hi":59.7},
   {"c":"Ni₃B-NCs/CP","b":"conv","k":"5- HMF conversion","lo":0,"hi":68.3},
   {"c":"Ni₂B-NCs/CP","b":"conv","k":"5- HMF conversion","lo":0,"hi":56.2},
   {"c":"Ni-NCs/CP","b":"yield","k":"Yield HMFCA","lo":0,"hi":5.6},
   {"c":"Ni-NCs/CP","b":"yield","k":"Yield FFCA","lo":5.6,"hi":8.5},
   {"c":"Ni-NCs/CP","b":"yield","k":"Yield FDCA","lo":8.5,"hi":19.9},
   {"c":"Ni₃B-NCs/CP","b":"yield","k":"Yield HMFCA","lo":0,"hi":4.5},
   {"c":"Ni₃B-NCs/CP","b":"yield","k":"Yield FFCA","lo":4.5,"hi":11.5},
   {"c":"Ni₃B-NCs/CP","b":"yield","k":"Yield FDCA","lo":11.5,"hi":44.8},
   {"c":"Ni₂B-NCs/CP","b":"yield","k":"Yield HMFCA","lo":0,"hi":8.0},
   {"c":"Ni₂B-NCs/CP","b":"yield","k":"Yield FFCA","lo":8.0,"hi":10.3},
   {"c":"Ni₂B-NCs/CP","b":"yield","k":"Yield FDCA","lo":10.3,"hi":23.8},
   {"c":"Ni-NCs/CP","b":"fe","k":"FE HMFCA","lo":0,"hi":8.3},
   {"c":"Ni-NCs/CP","b":"fe","k":"FE FFCA","lo":8.3,"hi":18.3},
   {"c":"Ni-NCs/CP","b":"fe","k":"FE FDCA","lo":18.3,"hi":66.4},
   {"c":"Ni₃B-NCs/CP","b":"fe","k":"FE HMFCA","lo":0,"hi":3.5},
   {"c":"Ni₃B-NCs/CP","b":"fe","k":"FE FFCA","lo":3.5,"hi":14.5},
   {"c":"Ni₃B-NCs/CP","b":"fe","k":"FE FDCA","lo":14.5,"hi":94.3},
   {"c":"Ni₂B-NCs/CP","b":"fe","k":"FE HMFCA","lo":0,"hi":11.8},
   {"c":"Ni₂B-NCs/CP","b":"fe","k":"FE FFCA","lo":11.8,"hi":18.0},
   {"c":"Ni₂B-NCs/CP","b":"fe","k":"FE FDCA","lo":18.0,"hi":71.7}
  ],
  "errF": [
   {"c":"Ni-NCs/CP","b":"conv","lo":53.7,"hi":65.6},
   {"c":"Ni-NCs/CP","b":"yield","lo":16.6,"hi":23.1},
   {"c":"Ni-NCs/CP","b":"yield","lo":5.1,"hi":6.1},
   {"c":"Ni-NCs/CP","b":"fe","lo":7.2,"hi":10.3},
   {"c":"Ni-NCs/CP","b":"fe","lo":16.0,"hi":20.4},
   {"c":"Ni-NCs/CP","b":"fe","lo":59.6,"hi":73.1},
   {"c":"Ni₃B-NCs/CP","b":"conv","lo":64.5,"hi":72.5},
   {"c":"Ni₃B-NCs/CP","b":"yield","lo":43.4,"hi":46.0},
   {"c":"Ni₃B-NCs/CP","b":"yield","lo":2.4,"hi":7.2},
   {"c":"Ni₃B-NCs/CP","b":"fe","lo":1.5,"hi":5.7},
   {"c":"Ni₃B-NCs/CP","b":"fe","lo":11.8,"hi":17.5},
   {"c":"Ni₃B-NCs/CP","b":"fe","lo":90.8,"hi":98.0},
   {"c":"Ni₂B-NCs/CP","b":"conv","lo":54.3,"hi":58.2},
   {"c":"Ni₂B-NCs/CP","b":"yield","lo":19.6,"hi":27.6},
   {"c":"Ni₂B-NCs/CP","b":"yield","lo":6.9,"hi":9.0},
   {"c":"Ni₂B-NCs/CP","b":"fe","lo":7.2,"hi":15.5},
   {"c":"Ni₂B-NCs/CP","b":"fe","lo":17.0,"hi":18.8},
   {"c":"Ni₂B-NCs/CP","b":"fe","lo":71.3,"hi":74.2}
  ]
 },
 "spacing": -8,
 "resolve": {"scale": {"color": "independent", "fill": "independent"}, "legend": {"color": "independent", "fill": "independent"}},
 "vconcat": [
  {
   "spacing": 6,
   "resolve": {"scale": {"color": "independent", "fill": "independent"}, "legend": {"color": "independent", "fill": "independent"}},
   "vconcat": [
    {
     "spacing": 23,
     "resolve": {"scale": {"color": "independent"}, "legend": {"color": "independent"}},
     "hconcat": [
      {
       "width": 218, "height": 223,
       "layer": [
        {"data": {"name": "cvA"}, "mark": {"type": "line", "strokeWidth": 1.8},
         "encoding": {
          "x": {"field": "v", "type": "quantitative", "scale": {"domain": [0.9, 2.6], "nice": false, "zero": false}, "axis": {"values": [0.95,1.0,1.05,1.1,1.15,1.2,1.25,1.3,1.35,1.4,1.45,1.5,1.55,1.6,1.65,1.7,1.75,1.8,1.85,1.9,1.95,2.0,2.05,2.1,2.15,2.2,2.25,2.3,2.35,2.4,2.45,2.5,2.55,2.6], "tickCount": 200, "format": ".1f", "labelExpr": "abs(datum.value*5 - round(datum.value*5)) < 0.001 ? datum.label : ''", "tickSize": {"condition": {"test": "abs(datum.value*5 - round(datum.value*5)) < 0.001", "value": 4}, "value": 2}, "title": "E vs RHE (V)", "labelOverlap": false, "labelFlush": false}},
          "y": {"field": "j", "type": "quantitative", "scale": {"domain": [-1, 15], "nice": false, "zero": false}, "axis": {"values": [-1,0,1,2,3,4,5,6,7,8,9,10,11,12,13,14,15], "tickCount": 200, "format": "d", "labelExpr": "datum.value >= 0 && datum.value % 2 == 0 ? datum.label : ''", "tickSize": {"condition": {"test": "datum.value % 2 == 0", "value": 4}, "value": 2}, "title": "j (mA/cm²)", "labelOverlap": false}},
          "color": {"field": "s", "type": "nominal", "scale": {"domain": ["Ni-NCs@CP","Ni₃B-NCs@CP","Ni₂B-NCs@CP"], "range": ["#2fa57c","#19addb","#f0545e"]}, "legend": {"orient": "none", "legendX": 10, "legendY": 2, "title": null, "symbolType": "stroke", "symbolSize": 484, "symbolStrokeWidth": 2, "rowPadding": 1, "labelOffset": 5}},
          "order": {"field": "i", "type": "quantitative"}
         }},
        {"data": {"values": [{}]}, "mark": {"type": "rule", "color": "#888", "strokeDash": [7,5], "strokeWidth": 1.5}, "encoding": {"x": {"datum": 1.8}}},
        {"data": {"values": [{}]}, "mark": {"type": "text", "text": "1.8 V vs RHE", "baseline": "bottom", "dy": -2, "fontSize": 12, "color": "#222"}, "encoding": {"x": {"datum": 1.8}, "y": {"datum": 15}}},
        {"data": {"values": [{}]}, "mark": {"type": "point", "shape": "square", "size": 256, "filled": true, "fill": "#5cc8d7", "stroke": "#333", "strokeWidth": 1, "opacity": 1}, "encoding": {"x": {"datum": 0.619}, "y": {"datum": 15.22}}},
        {"data": {"values": [{}]}, "mark": {"type": "text", "text": "a.", "fontWeight": "bold", "fontSize": 12, "color": "#111"}, "encoding": {"x": {"datum": 0.619}, "y": {"datum": 15.22}}},
        {"data": {"values": [{}]}, "mark": {"type": "rect", "fill": "#3d5db9", "cornerRadius": 3}, "encoding": {"x": {"datum": 1.337}, "x2": {"datum": 1.898}, "y": {"datum": 17.73}, "y2": {"datum": 16.29}}},
        {"data": {"values": [{}]}, "mark": {"type": "text", "text": "pH 12.9", "fontWeight": "bold", "fontSize": 13, "color": "white"}, "encoding": {"x": {"datum": 1.617}, "y": {"datum": 17.0}}}
       ]
      },
      {
       "width": 212, "height": 223,
       "layer": [
        {"data": {"name": "cvD"}, "mark": {"type": "line", "strokeWidth": 1.5},
         "encoding": {
          "x": {"field": "v", "type": "quantitative", "scale": {"domain": [0.9, 2.6], "nice": false, "zero": false}, "axis": {"values": [0.95,1.0,1.05,1.1,1.15,1.2,1.25,1.3,1.35,1.4,1.45,1.5,1.55,1.6,1.65,1.7,1.75,1.8,1.85,1.9,1.95,2.0,2.05,2.1,2.15,2.2,2.25,2.3,2.35,2.4,2.45,2.5,2.55,2.6], "tickCount": 200, "format": ".1f", "labelExpr": "abs(datum.value*5 - round(datum.value*5)) < 0.001 ? datum.label : ''", "tickSize": {"condition": {"test": "abs(datum.value*5 - round(datum.value*5)) < 0.001", "value": 4}, "value": 2}, "title": "E vs RHE (V)", "labelOverlap": false, "labelFlush": false}},
          "y": {"field": "j", "type": "quantitative", "scale": {"domain": [-5, 100], "nice": false, "zero": false}, "axis": {"values": [-5,0,5,10,15,20,25,30,35,40,45,50,55,60,65,70,75,80,85,90,95,100], "tickCount": 200, "format": "d", "labelExpr": "datum.value >= 0 && datum.value % 10 == 0 ? datum.label : ''", "tickSize": {"condition": {"test": "datum.value % 10 == 0", "value": 4}, "value": 2}, "title": "j (mA/cm²)", "labelOverlap": false}},
          "color": {"field": "s", "type": "nominal", "scale": {"domain": ["Ni-NCs@CP","Ni₃B-NCs@CP","Ni₂B-NCs@CP"], "range": ["#2fa886","#19addb","#f0545e"]}, "legend": {"orient": "none", "legendX": 7, "legendY": 2, "title": null, "symbolType": "stroke", "symbolSize": 484, "symbolStrokeWidth": 2, "rowPadding": 1, "labelOffset": 5}},
          "order": {"field": "i", "type": "quantitative"}
         }},
        {"data": {"values": [{}]}, "mark": {"type": "rule", "color": "#888", "strokeDash": [7,5], "strokeWidth": 1.5}, "encoding": {"x": {"datum": 1.8}}},
        {"data": {"values": [{}]}, "mark": {"type": "text", "text": "1.8 V vs RHE", "baseline": "bottom", "dy": -2, "fontSize": 12, "color": "#222"}, "encoding": {"x": {"datum": 1.8}, "y": {"datum": 100}}},
        {"data": {"values": [{}]}, "mark": {"type": "point", "shape": "square", "size": 256, "filled": true, "fill": "#5cc8d7", "stroke": "#333", "strokeWidth": 1, "opacity": 1}, "encoding": {"x": {"datum": 0.647}, "y": {"datum": 101.9}}},
        {"data": {"values": [{}]}, "mark": {"type": "text", "text": "d.", "fontWeight": "bold", "fontSize": 12, "color": "#111"}, "encoding": {"x": {"datum": 0.647}, "y": {"datum": 101.9}}},
        {"data": {"values": [{}]}, "mark": {"type": "rect", "fill": "#1fa9de", "cornerRadius": 3}, "encoding": {"x": {"datum": 1.389}, "x2": {"datum": 1.951}, "y": {"datum": 117.9}, "y2": {"datum": 108.5}}},
        {"data": {"values": [{}]}, "mark": {"type": "text", "text": "pH 13.9", "fontWeight": "bold", "fontSize": 13, "color": "white"}, "encoding": {"x": {"datum": 1.67}, "y": {"datum": 113.2}}}
       ]
      }
     ]
    },
    {
     "spacing": 27,
     "resolve": {"scale": {"color": "independent"}, "legend": {"color": "independent"}},
     "hconcat": [
      {
       "width": 213, "height": 223,
       "layer": [
        {"data": {"name": "caB"}, "mark": {"type": "line", "strokeWidth": 1.1},
         "encoding": {
          "x": {"field": "t", "type": "quantitative", "scale": {"domain": [0, 180], "nice": false}, "axis": {"values": [0,10,20,30,40,50,60,70,80,90,100,110,120,130,140,150,160,170,180], "tickCount": 200, "format": "d", "labelExpr": "datum.value % 30 == 0 ? datum.label : ''", "tickSize": {"condition": {"test": "datum.value % 30 == 0", "value": 4}, "value": 2}, "title": "Time (min)", "labelOverlap": false, "labelFlush": false}},
          "y": {"field": "j", "type": "quantitative", "scale": {"domain": [0, 20], "nice": false}, "axis": {"values": [0,1,2,3,4,5,6,7,8,9,10,11,12,13,14,15,16,17,18,19,20], "tickCount": 200, "format": "d", "labelExpr": "datum.value % 5 == 0 ? datum.label : ''", "tickSize": {"condition": {"test": "datum.value % 5 == 0", "value": 4}, "value": 2}, "title": "j (mA/cm²)", "labelOverlap": false}},
          "color": {"field": "s", "type": "nominal", "scale": {"domain": ["Ni-NCs@CP","Ni₃B-NCs@CP","Ni₂B-NCs@CP"], "range": ["#2fa57c","#19addb","#f0545e"]}, "legend": {"orient": "none", "legendX": 11, "legendY": 5, "title": null, "symbolType": "stroke", "symbolSize": 400, "symbolStrokeWidth": 2, "rowPadding": 0, "labelOffset": 6}}
         }},
        {"data": {"values": [{}]}, "mark": {"type": "point", "shape": "square", "size": 256, "filled": true, "fill": "#5cc8d7", "stroke": "#333", "strokeWidth": 1, "opacity": 1}, "encoding": {"x": {"datum": -30.4}, "y": {"datum": 19.73}}},
        {"data": {"values": [{}]}, "mark": {"type": "text", "text": "b.", "fontWeight": "bold", "fontSize": 12, "color": "#111"}, "encoding": {"x": {"datum": -30.4}, "y": {"datum": 19.73}}}
       ]
      },
      {
       "width": 213, "height": 223,
       "layer": [
        {"data": {"name": "caE"}, "mark": {"type": "line", "strokeWidth": 1.5},
         "encoding": {
          "x": {"field": "t", "type": "quantitative", "scale": {"domain": [0, 180], "nice": false}, "axis": {"values": [0,10,20,30,40,50,60,70,80,90,100,110,120,130,140,150,160,170,180], "tickCount": 200, "format": "d", "labelExpr": "datum.value % 30 == 0 ? datum.label : ''", "tickSize": {"condition": {"test": "datum.value % 30 == 0", "value": 4}, "value": 2}, "title": "Time (min)", "labelOverlap": false, "labelFlush": false}},
          "y": {"field": "j", "type": "quantitative", "scale": {"domain": [0, 25], "nice": false}, "axis": {"values": [0,1,2,3,4,5,6,7,8,9,10,11,12,13,14,15,16,17,18,19,20,21,22,23,24,25], "tickCount": 200, "format": "d", "labelExpr": "datum.value % 5 == 0 ? datum.label : ''", "tickSize": {"condition": {"test": "datum.value % 5 == 0", "value": 4}, "value": 2}, "title": "j (mA/cm²)", "labelOverlap": false}},
          "color": {"field": "s", "type": "nominal", "scale": {"domain": ["Ni-NCs@CP","Ni₃B-NCs@CP","Ni₂B-NCs@CP"], "range": ["#2fa886","#19addb","#f0545e"]}, "legend": {"orient": "none", "legendX": 5, "legendY": 3, "title": null, "symbolType": "stroke", "symbolSize": 484, "symbolStrokeWidth": 2, "rowPadding": 0, "labelOffset": 5}}
         }},
        {"data": {"values": [{}]}, "mark": {"type": "point", "shape": "square", "size": 256, "filled": true, "fill": "#5cc8d7", "stroke": "#333", "strokeWidth": 1, "opacity": 1}, "encoding": {"x": {"datum": -27.9}, "y": {"datum": 24.8}}},
        {"data": {"values": [{}]}, "mark": {"type": "text", "text": "e.", "fontWeight": "bold", "fontSize": 12, "color": "#111"}, "encoding": {"x": {"datum": -27.9}, "y": {"datum": 24.8}}}
       ]
      }
     ]
    }
   ]
  },
  {
   "spacing": 40,
   "resolve": {"scale": {"color": "independent", "fill": "independent"}, "legend": {"color": "independent", "fill": "independent"}},
   "hconcat": [
    {
     "width": 211, "height": 221,
     "resolve": {"scale": {"x": "independent"}},
     "layer": [
      {
       "layer": [
        {"data": {"name": "barsC"}, "transform": [{"filter": "datum.b == 'conv'"}], "mark": {"type": "bar"},
         "encoding": {
          "x": {"field": "c", "type": "nominal", "scale": {"domain": ["Ni-NCs/CP","Ni₃B-NCs/CP","Ni₂B-NCs/CP"], "paddingInner": 0.5, "paddingOuter": 0.25}, "axis": {"title": null, "labelAngle": 0, "labelFontSize": 11.5, "labelPadding": 3, "labelLimit": 0, "labelOverlap": false, "domainColor": "#6b74c7", "labelColor": {"condition": [{"test": "datum.value == 'Ni-NCs/CP'", "value": "#3dbf9c"}, {"test": "datum.value == 'Ni₃B-NCs/CP'", "value": "#2ab4e0"}], "value": "#f07a82"}}},
          "xOffset": {"field": "b", "type": "nominal", "scale": {"domain": ["conv","yield","fe"], "paddingInner": 0, "paddingOuter": 0}},
          "y": {"field": "hi", "type": "quantitative", "scale": {"domain": [0, 100], "nice": false}, "axis": {"values": [0,2,4,6,8,10,12,14,16,18,20,22,24,26,28,30,32,34,36,38,40,42,44,46,48,50,52,54,56,58,60,62,64,66,68,70,72,74,76,78,80,82,84,86,88,90,92,94,96,98,100], "tickCount": 200, "format": "d", "labelExpr": "datum.value >= 10 && datum.value % 10 == 0 ? datum.label : ''", "tickSize": {"condition": {"test": "datum.value % 10 == 0", "value": 4}, "value": 2}, "labelOverlap": false, "title": "Conversion/yield/FE (%)", "titleFontSize": 13, "titleColor": {"value": {"gradient": "linear", "x1": 0, "y1": 0, "x2": 1, "y2": 0, "stops": [{"offset": 0, "color": "#3ec46e"}, {"offset": 0.46, "color": "#3ec46e"}, {"offset": 0.46, "color": "#3cc3a8"}, {"offset": 0.7, "color": "#3cc3a8"}, {"offset": 0.7, "color": "#a274e6"}, {"offset": 1, "color": "#a274e6"}]}}}},
          "y2": {"field": "lo"},
          "fill": {"field": "k", "type": "nominal", "scale": {"domain": ["5- HMF conversion"], "range": ["#4dbd5e"]}, "legend": {"orient": "none", "legendX": 7, "legendY": 244, "title": null, "symbolType": "square", "symbolSize": 169, "symbolStrokeWidth": 0, "labelFontSize": 12.5, "labelOffset": 4}}
         }},
        {"data": {"name": "barsC"}, "transform": [{"filter": "datum.b != 'conv'"}], "mark": {"type": "bar"},
         "encoding": {
          "x": {"field": "c", "type": "nominal"},
          "xOffset": {"field": "b", "type": "nominal"},
          "y": {"field": "hi", "type": "quantitative"},
          "y2": {"field": "lo"},
          "color": {"field": "k", "type": "nominal", "scale": {"domain": ["Yield:","Yield DFF","Yield FFCA","Yield FDCA","FE:","FE DFF","FE FFCA","FE FDCA"], "range": ["transparent","#92dbe0","#42c7ad","#2c8c7c","transparent","#f3b5d8","#b597ea","#7446c9"]}, "legend": {"orient": "none", "direction": "horizontal", "legendX": -13, "legendY": 260, "title": null, "columns": 4, "columnPadding": 4, "rowPadding": 2, "symbolType": "square", "symbolSize": 144, "symbolStrokeWidth": 0, "labelFontSize": 12.5, "labelOffset": 3, "labelExpr": "datum.label == 'FE:' ? '\u00a0\u00a0\u00a0FE:' : replace(replace(datum.label, 'Yield ', ''), 'FE ', '')"}}
         }},
        {"data": {"name": "errC"}, "mark": {"type": "rule", "color": "#555", "strokeWidth": 1, "clip": true},
         "encoding": {"x": {"field": "c", "type": "nominal"}, "xOffset": {"field": "b", "type": "nominal"}, "y": {"field": "lo", "type": "quantitative"}, "y2": {"field": "hi"}}},
        {"data": {"name": "errC"}, "mark": {"type": "tick", "color": "#555", "size": 5, "thickness": 1, "clip": true},
         "encoding": {"x": {"field": "c", "type": "nominal"}, "xOffset": {"field": "b", "type": "nominal"}, "y": {"field": "lo", "type": "quantitative"}}},
        {"data": {"name": "errC"}, "mark": {"type": "tick", "color": "#555", "size": 5, "thickness": 1, "clip": true},
         "encoding": {"x": {"field": "c", "type": "nominal"}, "xOffset": {"field": "b", "type": "nominal"}, "y": {"field": "hi", "type": "quantitative"}}}
       ]
      },
      {
       "data": {"values": [{}]},
       "encoding": {"x": {"datum": -0.166, "type": "quantitative", "scale": {"domain": [0, 1]}, "axis": null}, "y": {"datum": 104.5, "type": "quantitative"}},
       "layer": [
        {"mark": {"type": "point", "shape": "square", "size": 256, "filled": true, "fill": "#5cc8d7", "stroke": "#333", "strokeWidth": 1, "opacity": 1}},
        {"mark": {"type": "text", "text": "c.", "fontWeight": "bold", "fontSize": 12, "color": "#111"}}
       ]
      }
     ]
    },
    {
     "width": 212, "height": 221,
     "resolve": {"scale": {"x": "independent"}},
     "layer": [
      {
       "layer": [
        {"data": {"name": "barsF"}, "transform": [{"filter": "datum.b == 'conv'"}], "mark": {"type": "bar"},
         "encoding": {
          "x": {"field": "c", "type": "nominal", "scale": {"domain": ["Ni-NCs/CP","Ni₃B-NCs/CP","Ni₂B-NCs/CP"], "paddingInner": 0.5, "paddingOuter": 0.3}, "axis": {"title": null, "labelAngle": 0, "labelFontSize": 11.5, "labelPadding": 3, "labelLimit": 0, "labelOverlap": false, "domainColor": "#6b74c7", "labelColor": {"condition": [{"test": "datum.value == 'Ni-NCs/CP'", "value": "#3dbf9c"}, {"test": "datum.value == 'Ni₃B-NCs/CP'", "value": "#2ab4e0"}], "value": "#f07a82"}}},
          "xOffset": {"field": "b", "type": "nominal", "scale": {"domain": ["conv","yield","fe"], "paddingInner": 0, "paddingOuter": 0}},
          "y": {"field": "hi", "type": "quantitative", "scale": {"domain": [0, 100], "nice": false}, "axis": {"values": [0,2,4,6,8,10,12,14,16,18,20,22,24,26,28,30,32,34,36,38,40,42,44,46,48,50,52,54,56,58,60,62,64,66,68,70,72,74,76,78,80,82,84,86,88,90,92,94,96,98,100], "tickCount": 200, "format": "d", "labelExpr": "datum.value >= 10 && datum.value % 10 == 0 ? datum.label : ''", "tickSize": {"condition": {"test": "datum.value % 10 == 0", "value": 4}, "value": 2}, "labelOverlap": false, "title": "Conversion/yield/FE (%)", "titleFontSize": 13, "titleColor": {"value": {"gradient": "linear", "x1": 0, "y1": 0, "x2": 1, "y2": 0, "stops": [{"offset": 0, "color": "#3ec46e"}, {"offset": 0.46, "color": "#3ec46e"}, {"offset": 0.46, "color": "#3cc3a8"}, {"offset": 0.7, "color": "#3cc3a8"}, {"offset": 0.7, "color": "#a274e6"}, {"offset": 1, "color": "#a274e6"}]}}}},
          "y2": {"field": "lo"},
          "fill": {"field": "k", "type": "nominal", "scale": {"domain": ["5- HMF conversion"], "range": ["#4dbd5e"]}, "legend": {"orient": "none", "legendX": 4, "legendY": 244, "title": null, "symbolType": "square", "symbolSize": 169, "symbolStrokeWidth": 0, "labelFontSize": 12.5, "labelOffset": 4}}
         }},
        {"data": {"name": "barsF"}, "transform": [{"filter": "datum.b != 'conv'"}], "mark": {"type": "bar"},
         "encoding": {
          "x": {"field": "c", "type": "nominal"},
          "xOffset": {"field": "b", "type": "nominal"},
          "y": {"field": "hi", "type": "quantitative"},
          "y2": {"field": "lo"},
          "color": {"field": "k", "type": "nominal", "scale": {"domain": ["Yield:","Yield HMFCA","Yield FFCA","Yield FDCA","FE:","FE HMFCA","FE FFCA","FE FDCA"], "range": ["transparent","#a3e3df","#45c9b1","#2f8e7f","transparent","#d9c8f3","#b597ea","#7446c9"]}, "legend": {"orient": "none", "direction": "horizontal", "legendX": -14, "legendY": 260, "title": null, "columns": 4, "columnPadding": 4, "rowPadding": 2, "symbolType": "square", "symbolSize": 144, "symbolStrokeWidth": 0, "labelFontSize": 12.5, "labelOffset": 3, "labelExpr": "datum.label == 'FE:' ? '\u00a0\u00a0\u00a0FE:' : replace(replace(datum.label, 'Yield ', ''), 'FE ', '')"}}
         }},
        {"data": {"name": "errF"}, "mark": {"type": "rule", "color": "#555", "strokeWidth": 1, "clip": true},
         "encoding": {"x": {"field": "c", "type": "nominal"}, "xOffset": {"field": "b", "type": "nominal"}, "y": {"field": "lo", "type": "quantitative"}, "y2": {"field": "hi"}}},
        {"data": {"name": "errF"}, "mark": {"type": "tick", "color": "#555", "size": 5, "thickness": 1, "clip": true},
         "encoding": {"x": {"field": "c", "type": "nominal"}, "xOffset": {"field": "b", "type": "nominal"}, "y": {"field": "lo", "type": "quantitative"}}},
        {"data": {"name": "errF"}, "mark": {"type": "tick", "color": "#555", "size": 5, "thickness": 1, "clip": true},
         "encoding": {"x": {"field": "c", "type": "nominal"}, "xOffset": {"field": "b", "type": "nominal"}, "y": {"field": "hi", "type": "quantitative"}}}
       ]
      },
      {
       "data": {"values": [{}]},
       "encoding": {"x": {"datum": -0.151, "type": "quantitative", "scale": {"domain": [0, 1]}, "axis": null}, "y": {"datum": 104.5, "type": "quantitative"}},
       "layer": [
        {"mark": {"type": "point", "shape": "square", "size": 256, "filled": true, "fill": "#5cc8d7", "stroke": "#333", "strokeWidth": 1, "opacity": 1}},
        {"mark": {"type": "text", "text": "f.", "fontWeight": "bold", "fontSize": 12, "color": "#111"}}
       ]
      }
     ]
    }
   ]
  }
 ]
}
